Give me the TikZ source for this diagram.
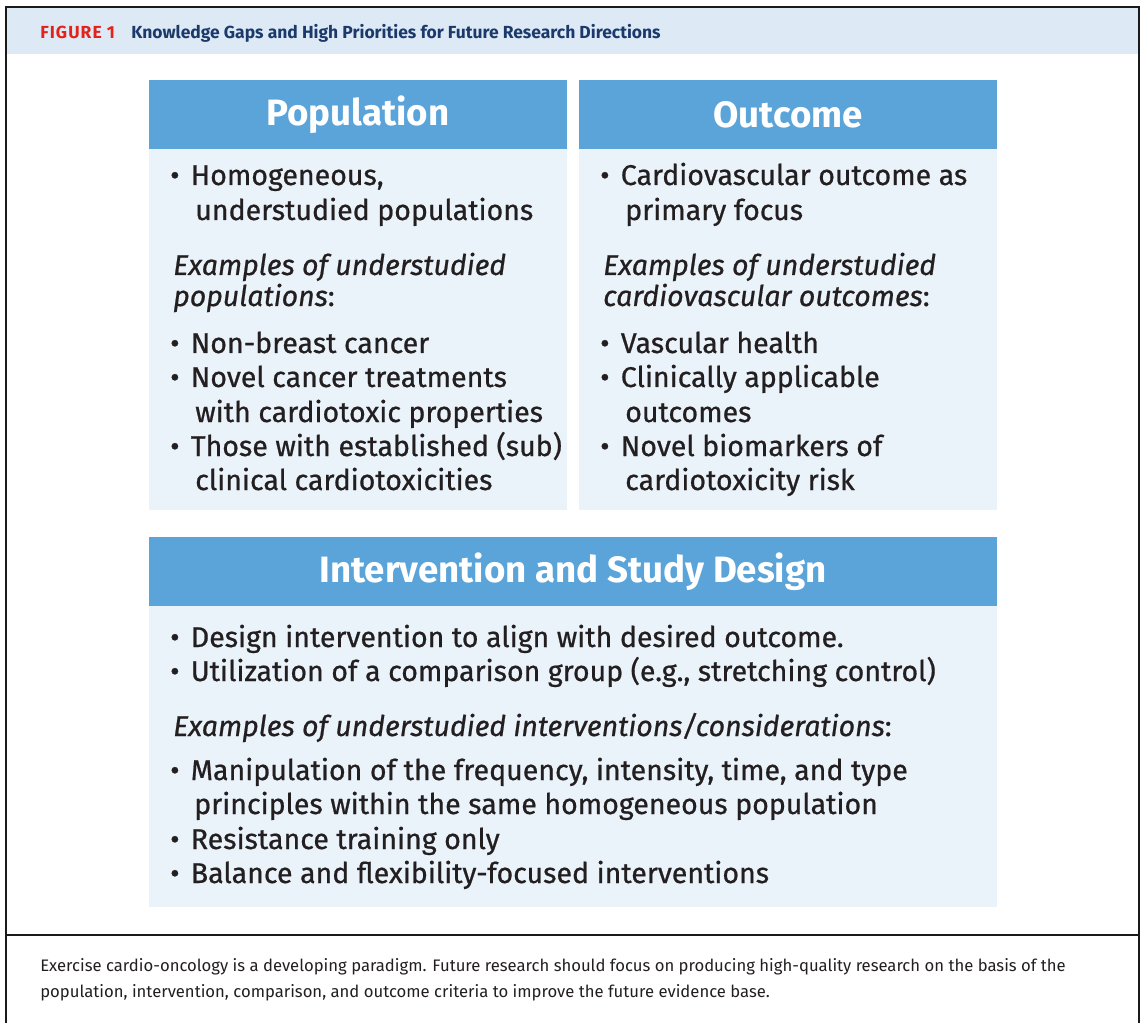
\documentclass[tikz,border=0pt]{standalone}
\usepackage{fontspec}
\setmainfont{Fira Sans}
\newfontfamily\medfont[FakeBold=0.7]{Fira Sans}
\newfontfamily\capfont{Fira Sans}
\newfontfamily\ttlfont{Fira Sans}
\definecolor{hdrblue}{HTML}{5BA4D9}
\definecolor{bodyblue}{HTML}{EAF2FA}
\definecolor{bandblue}{HTML}{DDE9F5}
\definecolor{figred}{HTML}{E2231A}
\definecolor{navy}{HTML}{1B3A6B}
\definecolor{ink}{HTML}{231F20}
\definecolor{framecol}{HTML}{1A1A1A}
\newcommand{\bul}{\textbullet\kern8.5pt\relax}
\tikzset{
  hdr/.style={fill=hdrblue, text=white, inner sep=0pt, font=\fontsize{27.5}{30}\selectfont\bfseries},
  bodybox/.style={fill=bodyblue, inner sep=0pt},
  ln/.style={anchor=base west, inner sep=0pt, text=ink, font=\medfont\fontsize{21.4}{24}\selectfont},
  captext/.style={anchor=base west, inner sep=0pt, text=ink, font=\capfont\fontsize{12.5}{14}\selectfont},
  ttl/.style={anchor=base west, inner sep=0pt, font=\ttlfont\fontsize{13.1}{14}\selectfont\bfseries},
  frameline/.style={draw=framecol, line width=1.4pt}
}
\begin{document}
\begin{tikzpicture}[x=0.75pt, y=-0.75pt]
\useasboundingbox (0,0) rectangle (1142,1023);
% frame
\fill[bandblue] (7,8) rectangle (1139,54);
\coordinate (tl) at (6,7);
\coordinate (tr) at (1139,7);
\coordinate (bl) at (6,1023);
\coordinate (br) at (1139,1023);
\coordinate (ml) at (6,935);
\coordinate (mr) at (1139,935);
\draw[frameline] (bl) -- (tl) -- (tr) -- (br);
\draw[frameline] (ml) -- (mr);
% title
\node[ttl, text=figred] (fig) at (40,39) {\addfontfeature{LetterSpace=6}FIGURE 1};
\node[ttl, text=navy] (title) at (131,39) {Knowledge Gaps and High Priorities for Future Research Directions};
% boxes
\node[hdr, minimum width=313.5pt, minimum height=51.75pt] (pophead) at (358,114.5) {Population};
\node[bodybox, minimum width=313.5pt, minimum height=270.75pt] (popbody) at (358,329.5) {};
\node[hdr, minimum width=313.5pt, minimum height=51.75pt] (outhead) at (788,114.5) {Outcome};
\node[bodybox, minimum width=313.5pt, minimum height=270.75pt] (outbody) at (788,329.5) {};
\node[hdr, minimum width=636pt, minimum height=51.75pt] (inthead) at (573,571.5) {Intervention and Study Design};
\node[bodybox, minimum width=636pt, minimum height=225.75pt] (intbody) at (573,756.5) {};
% population text
\node[ln] (p1) at (170,185) {\bul Homogeneous,};
\node[ln] (p2) at (195,220) {understudied populations};
\node[ln] (p3) at (173,275) {\itshape Examples of understudied};
\node[ln] (p4) at (173,306) {\textit{populations}:};
\node[ln] (p5) at (170,353) {\bul Non-breast cancer};
\node[ln] (p6) at (170,387) {\bul Novel cancer treatments};
\node[ln] (p7) at (195,422) {with cardiotoxic properties};
\node[ln] (p8) at (170,456) {\bul Those with established (sub)};
\node[ln] (p9) at (195,490) {clinical cardiotoxicities};
% outcome text
\node[ln] (o1) at (600,185) {\bul Cardiovascular outcome as};
\node[ln] (o2) at (625,220) {primary focus};
\node[ln] (o3) at (603,275) {\itshape Examples of understudied};
\node[ln] (o4) at (603,306) {\textit{cardiovascular outcomes}:};
\node[ln] (o5) at (600,353) {\bul Vascular health};
\node[ln] (o6) at (600,387) {\bul Clinically applicable};
\node[ln] (o7) at (625,422) {outcomes};
\node[ln] (o8) at (600,456) {\bul Novel biomarkers of};
\node[ln] (o9) at (625,490) {cardiotoxicity risk};
% intervention text
\node[ln] (i1) at (170,647) {\bul Design intervention to align with desired outcome.};
\node[ln] (i2) at (170,681) {\bul Utilization of a comparison group (e.g., stretching control)};
\node[ln] (i3) at (173,736) {\textit{Examples of understudied interventions/considerations}:};
\node[ln] (i4) at (170,780) {\bul Manipulation of the frequency, intensity, time, and type};
\node[ln] (i5) at (194,814) {principles within the same homogeneous population};
\node[ln] (i6) at (170,849) {\bul Resistance training only};
\node[ln] (i7) at (170,883) {\bul Balance and flexibility-focused interventions};
% caption
\node[captext] (c1) at (40,971) {Exercise cardio-oncology is a developing paradigm. Future research should focus on producing high-quality research on the basis of the};
\node[captext] (c2) at (40,997) {population, intervention, comparison, and outcome criteria to improve the future evidence base.};
\end{tikzpicture}
\end{document}
